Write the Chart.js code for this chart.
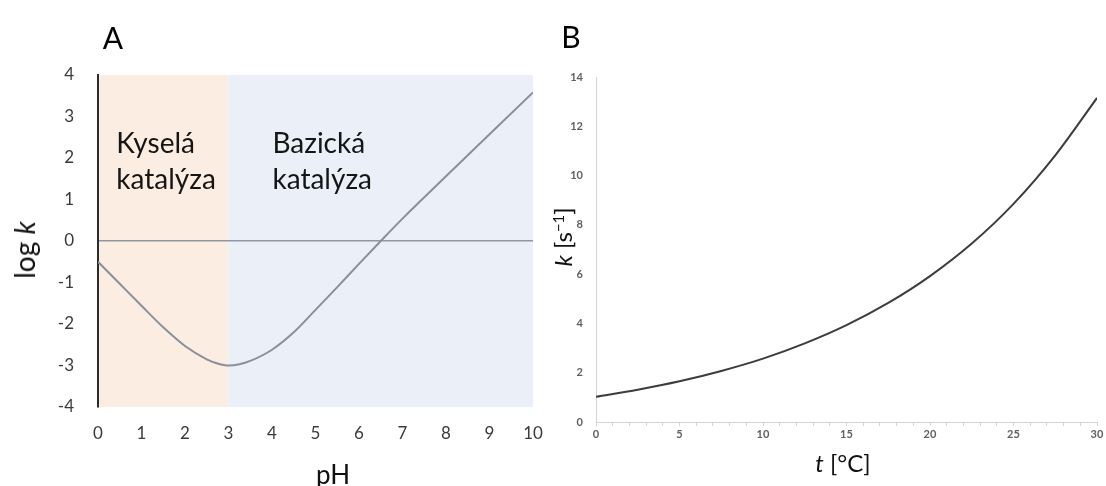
<!DOCTYPE html>
<html>
<head>
<meta charset="utf-8">
<title>log k vs pH, k vs t</title>
<script src="https://cdn.jsdelivr.net/npm/chart.js@4.4.1/dist/chart.umd.min.js"></script>
<style>
    body {
        margin: 0;
        width: 1106px;
        height: 486px;
        overflow: hidden;
        position: relative;
        background: #fff;
        font-family: Lato, 'Open Sans', sans-serif;
        color: #111;
    }
    canvas { position: absolute; top: 0; }
    #chartA { left: 0; }
    #chartB { left: 540px; }
    .label {
        position: absolute;
        line-height: 1;
        white-space: nowrap;
        transform: translate(-50%, -50%);
    }
    .label.rotated { transform: translate(-50%, -50%) rotate(-90deg); }
    .label i { font-style: italic; }
    .label sup { font-size: 0.62em; vertical-align: 0.55em; line-height: 0; }
    .panel-letter { font-size: 30px; color: #000; }
</style>
</head>
<body>
<canvas id="chartA" width="560" height="486"></canvas>
<canvas id="chartB" width="566" height="486"></canvas>

<div class="label panel-letter" style="left:113px; top:37px;">A</div>
<div class="label panel-letter" style="left:571px; top:36px;">B</div>
<div class="label rotated" style="left:24px; top:250px; font-size:28px;">log <i>k</i></div>
<div class="label" style="left:333px; top:474px; font-size:26px;">pH</div>
<div class="label rotated" style="left:563px; top:237px; font-size:24px;"><i>k</i> [s<sup>−1</sup>]</div>
<div class="label" style="left:843px; top:463px; font-size:24px;"><i>t</i> [°C]</div>

<script>
// Panel A: log k against pH
const phValues   = [0, 0.5, 1, 1.5, 2, 2.5, 2.75, 3, 3.25, 3.5, 4, 4.5, 5, 5.5, 6, 6.5, 7, 8, 9, 10];
const logKValues = [-0.5, -1.03, -1.56, -2.08, -2.53, -2.85, -2.95, -3.0, -2.97, -2.89, -2.62, -2.2, -1.66, -1.11, -0.55, 0.0, 0.54, 1.56, 2.57, 3.58];
const phTicks    = [0, 1, 2, 3, 4, 5, 6, 7, 8, 9, 10];
const logKTicks  = [-4, -3, -2, -1, 0, 1, 2, 3, 4];

// catalysis regions along the pH axis
const regionNames  = [['Kyselá', 'katalýza'], ['Bazická', 'katalýza']];
const regionStarts = [0, 3];
const regionEnds   = [3, 10];

// Panel B: k against temperature
const tempValues = [0, 2.5, 5, 7.5, 10, 12.5, 15, 17.5, 20, 22.5, 25, 27.5, 30];
const rateValues = [1.02, 1.31, 1.65, 2.07, 2.57, 3.19, 3.93, 4.83, 5.92, 7.24, 8.85, 10.82, 13.15];
const tempTicks  = [0, 5, 10, 15, 20, 25, 30];
const rateTicks  = [0, 2, 4, 6, 8, 10, 12, 14];

const colors = {
    regionFill: ['#fcede3', '#eaeff8'],
    curveA: '#8a8f99',
    zeroLine: '#8e97a2',
    axisA: '#2b2b2b',
    tickA: '#3a3a3a',
    curveB: '#3c3c3c',
    axisB: '#d4d4d4',
    tickB: '#5f5f5f'
};

// fixes a scale's size and drops the label overflow padding
function fixScaleSize(size) {
    return scale => {
        if (scale.isHorizontal()) scale.height = size;
        else scale.width = size;
        scale.paddingLeft = scale.paddingRight = 0;
        scale.paddingTop = scale.paddingBottom = 0;
    };
}

function useTicks(values) {
    return scale => { scale.ticks = values.map(value => ({ value })); };
}

// shaded pH ranges and their labels
const catalysisRegions = {
    id: 'catalysisRegions',
    beforeDraw(chart, args, opts) {
        const { ctx, chartArea, scales: { x } } = chart;
        ctx.save();
        regionStarts.forEach((start, i) => {
            const left = x.getPixelForValue(start);
            const right = x.getPixelForValue(regionEnds[i]);
            ctx.fillStyle = colors.regionFill[i];
            ctx.fillRect(left, chartArea.top, right - left, chartArea.bottom - chartArea.top);
        });
        ctx.restore();
    },
    afterDatasetsDraw(chart, args, opts) {
        const { ctx, scales: { x, y } } = chart;
        ctx.save();
        ctx.font = opts.font;
        ctx.fillStyle = '#151515';
        ctx.textAlign = 'left';
        ctx.textBaseline = 'alphabetic';
        regionNames.forEach((lines, i) => {
            const left = x.getPixelForValue(opts.labelX[i]);
            lines.forEach((line, j) => {
                ctx.fillText(line, left, y.getPixelForValue(opts.labelY[j]));
            });
        });
        ctx.restore();
    }
};

function makeChartA() {
    new Chart(document.getElementById('chartA'), {
        type: 'line',
        data: {
            datasets: [{
                data: phValues.map((ph, i) => ({ x: ph, y: logKValues[i] })),
                borderColor: colors.curveA,
                borderWidth: 2,
                pointRadius: 0,
                cubicInterpolationMode: 'monotone',
                fill: false
            }]
        },
        options: {
            responsive: false,
            animation: false,
            events: [],
            layout: { padding: { top: 75, right: 27, bottom: 0, left: 0 } },
            plugins: {
                legend: { display: false },
                tooltip: { enabled: false },
                catalysisRegions: {
                    font: '28px Lato',
                    labelX: [0.42, 4.01],
                    labelY: [2.13, 1.25]
                }
            },
            scales: {
                x: {
                    type: 'linear',
                    min: 0,
                    max: 10,
                    afterBuildTicks: useTicks(phTicks),
                    afterFit: fixScaleSize(79),
                    grid: { display: false, drawTicks: false },
                    border: { display: false },
                    ticks: {
                        padding: 16,
                        maxRotation: 0,
                        autoSkip: false,
                        color: colors.tickA,
                        font: { family: 'Lato', size: 17 }
                    }
                },
                y: {
                    type: 'linear',
                    min: -4,
                    max: 4,
                    afterBuildTicks: useTicks(logKTicks),
                    afterFit: fixScaleSize(98),
                    grid: {
                        drawTicks: false,
                        lineWidth: 1.5,
                        color: ctx => ctx.tick && ctx.tick.value === 0 ? colors.zeroLine : 'rgba(0,0,0,0)'
                    },
                    border: { display: true, color: colors.axisA, width: 2 },
                    ticks: {
                        padding: 24,
                        autoSkip: false,
                        color: colors.tickA,
                        font: { family: 'Lato', size: 17 }
                    }
                }
            }
        },
        plugins: [catalysisRegions]
    });
}

function makeChartB() {
    new Chart(document.getElementById('chartB'), {
        type: 'line',
        data: {
            datasets: [{
                data: tempValues.map((t, i) => ({ x: t, y: rateValues[i] })),
                borderColor: colors.curveB,
                borderWidth: 2,
                pointRadius: 0,
                cubicInterpolationMode: 'monotone',
                fill: false
            }]
        },
        options: {
            responsive: false,
            animation: false,
            events: [],
            layout: { padding: { top: 77, right: 9, bottom: 0, left: 0 } },
            plugins: {
                legend: { display: false },
                tooltip: { enabled: false }
            },
            scales: {
                x: {
                    type: 'linear',
                    min: 0,
                    max: 30,
                    // one minor mark per degree, labels on the 5s
                    ticks: {
                        stepSize: 1,
                        padding: 2,
                        maxRotation: 0,
                        autoSkip: false,
                        color: colors.tickB,
                        font: { family: 'Lato', size: 11, weight: 'bold' },
                        callback: value => tempTicks.includes(value) ? String(value) : ''
                    },
                    afterFit: fixScaleSize(64),
                    grid: {
                        drawOnChartArea: false,
                        drawTicks: true,
                        tickLength: 4,
                        color: colors.axisB
                    },
                    border: { display: true, color: colors.axisB, width: 1 }
                },
                y: {
                    type: 'linear',
                    min: 0,
                    max: 14,
                    afterBuildTicks: useTicks(rateTicks),
                    afterFit: fixScaleSize(56),
                    grid: { display: false, drawTicks: false },
                    border: { display: true, color: colors.axisB, width: 1 },
                    ticks: {
                        padding: 13,
                        autoSkip: false,
                        color: colors.tickB,
                        font: { family: 'Lato', size: 11, weight: 'bold' }
                    }
                }
            }
        }
    });
}

function initCharts() {
    makeChartA();
    makeChartB();
}

document.fonts.load('28px Lato').then(initCharts, initCharts);
</script>
</body>
</html>
